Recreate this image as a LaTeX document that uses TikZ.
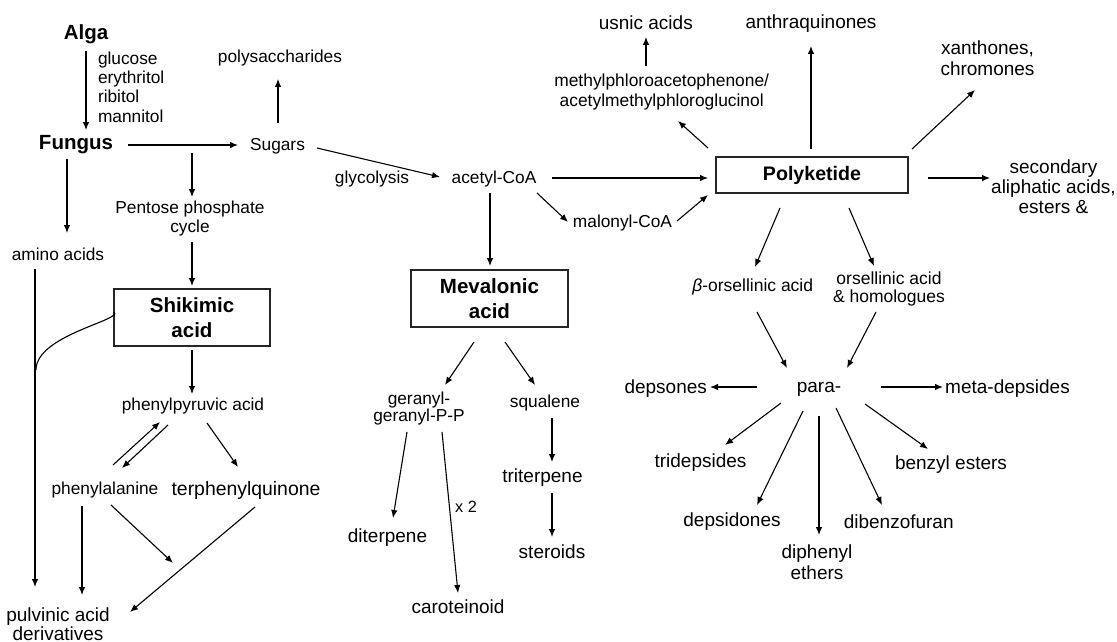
\documentclass[tikz,border=0pt]{standalone}
\usepackage{fontspec}
\setmainfont{Liberation Sans}
\usetikzlibrary{arrows.meta}
\newcommand\fS{\fontsize{17.3}{19.3}\selectfont}
\newcommand\fM{\fontsize{19}{20.5}\selectfont}
\newcommand\fB{\fontsize{20.5}{24.5}\selectfont}
\newcommand\link[5][arr]{\draw[#1] ([shift={(#3)}]#2.center) -- ([shift={(#5)}]#4.center);}
\tikzset{
  lbl/.style={inner sep=0pt, outer sep=0pt, align=center, font=\fS, text=black},
  lblm/.style={lbl, font=\fM},
  bld/.style={lbl, font=\fB\bfseries},
  boxn/.style={draw=black!85, line width=1.2pt, inner sep=0pt, align=center, font=\fB\bfseries},
  arr/.style={-{Latex[length=8pt,width=6.5pt]}, line width=1.1pt},
  ln/.style={line width=1.1pt}
}
\begin{document}
\begin{tikzpicture}[x=1pt,y=-1pt]
\useasboundingbox[fill=white] (0,0) rectangle (1117,642);
% ---- left part
\node[bld] (alga) at (86,34) {Alga};
\node[lbl, align=left, anchor=west] (sugl) at (98,87) {glucose\\erythritol\\ribitol\\mannitol};
\node[bld] (fungus) at (76,145) {Fungus};
\node[lbl] (sugars) at (277.5,146) {Sugars};
\node[lbl] (polys) at (280,58) {polysaccharides};
\node[lbl] (glyc) at (372,179) {glycolysis};
\node[lbl] (pentose) at (190,218.5) {Pentose phosphate\\cycle};
\node[lbl] (amino) at (58,254) {amino acids};
\node[boxn, minimum width=156pt, minimum height=57pt] (shik) at (192,317.5) {Shikimic\\acid};
\node[lbl] (phepyr) at (193,406) {phenylpyruvic acid};
\node[lbl] (phenala) at (105,490) {phenylalanine};
\node[lbl, font=\fontsize{19.4}{22}\selectfont] (terph) at (246,490) {terphenylquinone};
\node[lblm, font=\fontsize{19}{18.5}\selectfont] (pulv) at (58,624) {pulvinic acid\\derivatives};
\coordinate (pbranch) at (192,153);
\coordinate (pend) at (173,563);
% ---- middle part
\node[lbl] (acetyl) at (494,179) {acetyl-CoA};
\node[lbl] (malonyl) at (622.5,223) {malonyl-CoA};
\node[boxn, minimum width=157pt, minimum height=57pt] (mev) at (489.5,298.5) {Mevalonic\\acid};
\node[lbl, font=\fontsize{17.3}{17}\selectfont] (geranyl) at (419,409) {geranyl-\\geranyl-P-P};
\node[lbl] (squalene) at (545,403) {squalene};
\node[lblm] (diterp) at (387.5,538) {diterpene};
\node[lbl, font=\fontsize{16.3}{18}\selectfont] (xtwo) at (466,507) {x 2};
\node[lblm] (carot) at (458,607) {caroteinoid};
\node[lblm] (triterp) at (542.5,478) {triterpene};
\node[lblm] (steroids) at (552,552) {steroids};
% ---- right part
\node[lblm] (usnic) at (645.8,23) {usnic acids};
\node[lbl, font=\fontsize{17.4}{20}\selectfont] (methyl) at (661.7,92) {methylphloroacetophenone/\\acetylmethylphloroglucinol};
\node[lblm] (anthra) at (811,24) {anthraquinones};
\node[boxn, minimum width=192pt, minimum height=36pt, font=\fontsize{19.6}{22}\selectfont\bfseries] (poly) at (812,175) {Polyketide};
\node[lblm, font=\fontsize{19}{21}\selectfont] (xanth) at (987.5,58.5) {xanthones,\\chromones};
\node[lblm, font=\fontsize{19}{20}\selectfont] (second) at (1053.5,187) {secondary\\aliphatic acids,\\esters \&};
\node[lbl, font=\fontsize{17.5}{18.5}\selectfont] (bors) at (752.7,287) {\textit{β}-orsellinic acid};
\node[lbl, font=\fontsize{17.5}{18.5}\selectfont] (ors) at (889,289) {orsellinic acid\\\& homologues};
\node[lblm] (para) at (819,389) {para-};
\node[lblm] (depsones) at (665.7,389) {depsones};
\node[lblm] (meta) at (1007.5,389) {meta-depsides};
\node[lblm] (trid) at (700.5,463) {tridepsides};
\node[lblm] (depsid) at (732,522) {depsidones};
\node[lblm, font=\fontsize{19}{21}\selectfont] (diphenyl) at (817,562.5) {diphenyl\\ethers};
\node[lblm] (dibenzo) at (898.7,522) {dibenzofuran};
\node[lblm] (benzyl) at (951,465) {benzyl esters};
% ---- connectors left
\link{alga}{0,17}{fungus}{10,-15}
\link{fungus}{52,0}{sugars}{-39.5,-1}
\link{sugars}{0.5,-23}{polys}{-2,21}
\link{fungus}{-9,14}{amino}{9,-21}
\draw[arr] (pbranch) -- ([shift={(2,-21.5)}]pentose.center);
\link{pentose}{2,23.5}{shik}{0,-31.5}
\link{shik}{0,32.5}{phepyr}{-1,-12}
\link{amino}{-23,15}{pulv}{-23,-37}
\draw[ln] ([shift={(-78,-5.5)}]shik.center) .. controls ([shift={(-68,2.5)}]shik.center) and ([shift={(-22,81)}]amino.center) .. ([shift={(-22,116)}]amino.center);
\link{phenala}{8,-25}{phepyr}{-33,16}
\link{phepyr}{-25,19}{phenala}{17,-22}
\link{phepyr}{14,17}{terph}{-8,-23}
\link{phenala}{-23,16}{pulv}{24,-29}
\draw[arr] ([shift={(6,15)}]phenala.center) -- (pend);
\link{terph}{9,17}{pulv}{72,-12}
% ---- connectors middle
\link{sugars}{39.5,2}{acetyl}{-54,-2}
\link{acetyl}{58,-1}{poly}{-104,3}
\link{acetyl}{43,14}{malonyl}{-54.5,-1}
\link{malonyl}{54.5,-2}{poly}{-104,20}
\link{acetyl}{-4,14}{mev}{0.5,-32.5}
\link{mev}{-15.5,43.5}{geranyl}{26,-24}
\link{mev}{15.5,43.5}{squalene}{-10,-18}
\link{geranyl}{-12,23}{diterp}{5.5,-20}
\link{geranyl}{23,23}{carot}{0,-14}
\link{squalene}{7,15}{triterp}{9.5,-16}
\link{triterp}{9.5,15}{steroids}{0,-15}
% ---- connectors right
\link{methyl}{-15.7,-26}{usnic}{0.2,14}
\link{poly}{-104,-27}{methyl}{16.3,29}
\link{poly}{-1,-26}{anthra}{0,22}
\link{poly}{100,-26}{xanth}{-12.5,31.5}
\link{poly}{116,3}{second}{-63.5,-9}
\link{poly}{-32,33}{bors}{2.3,-20}
\link{poly}{37,33}{ors}{-15,-23}
\link{bors}{4.3,25}{para}{-32,-21}
\link{ors}{-13,23}{para}{28,-21}
\link{para}{-62,-2}{depsones}{44.3,-2}
\link{para}{62,-2}{meta}{-64.5,-2}
\link{para}{-38,14}{trid}{24.5,-18}
\link{para}{-16,22}{depsid}{25,-17}
\link{para}{0,27}{diphenyl}{2,-27.5}
\link{para}{17,19}{dibenzo}{-16.7,-17}
\link{para}{46,15}{benzyl}{-23,-16}
\end{tikzpicture}
\end{document}
